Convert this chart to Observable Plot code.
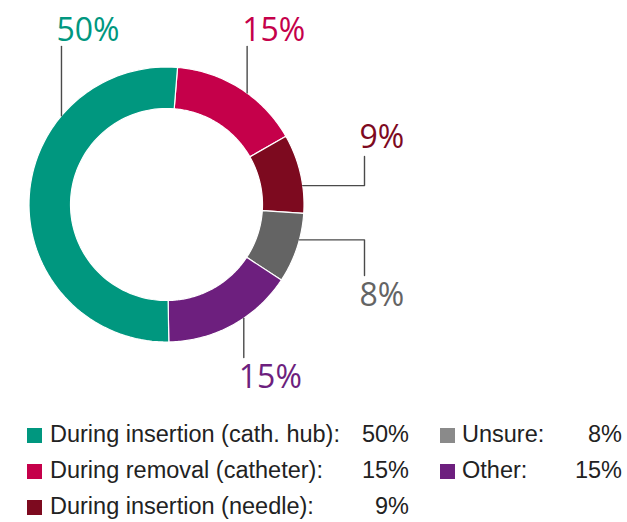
<!DOCTYPE html>
<html>
<head>
<meta charset="utf-8">
<script src="https://cdn.jsdelivr.net/npm/d3@7"></script>
<script src="https://cdn.jsdelivr.net/npm/@observablehq/plot@0.6"></script>
<style>
  html, body { margin: 0; padding: 0; background: #fff; }
  #wrap { position: relative; width: 627px; height: 522px; overflow: hidden; }
  #chart svg { display: block; }
  .lg { position: absolute; font-family: "Liberation Sans", Arial, sans-serif; font-size: 23.5px; color: #222; line-height: 1; white-space: nowrap; }
  .sw { position: absolute; width: 15px; height: 15px; }
</style>
</head>
<body>
<div id="wrap"><div id="chart"></div></div>
<script>
// ---- data ----
const categories = [
  "During insertion (cath. hub)",
  "During removal (catheter)",
  "During insertion (needle)",
  "Unsure",
  "Other"
];
const values = [50, 15, 9, 8, 15];
const labels = ["50%", "15%", "9%", "8%", "15%"];
const colors = ["#00977f", "#c5004a", "#7d0a1f", "#646464", "#6d1f7e"];
const legendColors = ["#00977f", "#c5004a", "#7d0a1f", "#8a8a8a", "#6d1f7e"];
// order of slices clockwise from top
const sliceOrder = [1, 2, 3, 4, 0];

// ---- layout ----
const R = 137.5, r0 = 96;
const startDeg = 4.6;
// leader anchor angle (deg clockwise from top), route, end
const leaders = [
  {angle: 310.2, route: "up", end: 158},
  {angle: 35.9, route: "up", end: 158},
  {angle: 82.1, route: "elbow", elbowX: 198, end: 48},
  {angle: 104.9, route: "elbow", elbowX: 198, end: -71},
  {angle: 145.8, route: "down", end: -153}
];

const total = d3.sum(values);
const toRad = d => d * Math.PI / 180;

// slice polygons
const slicePts = [];
let a = toRad(startDeg);
for (const i of sliceOrder) {
  const span = values[i] / total * 2 * Math.PI;
  const a0 = a, a1 = a + span, n = 80;
  for (let k = 0; k <= n; k++) {
    const t = a0 + (a1 - a0) * k / n;
    slicePts.push({cat: categories[i], x: R * Math.sin(t), y: R * Math.cos(t)});
  }
  for (let k = n; k >= 0; k--) {
    const t = a0 + (a1 - a0) * k / n;
    slicePts.push({cat: categories[i], x: r0 * Math.sin(t), y: r0 * Math.cos(t)});
  }
  a = a1;
}

// leaders & labels
const leaderPts = [];
const labelPts = [];
const capH = 23;
leaders.forEach((L, i) => {
  const t = toRad(L.angle);
  const sx = R * Math.sin(t), sy = R * Math.cos(t);
  leaderPts.push({cat: categories[i], x: sx, y: sy});
  let lx;
  if (L.route === "elbow") {
    leaderPts.push({cat: categories[i], x: L.elbowX, y: sy});
    leaderPts.push({cat: categories[i], x: L.elbowX, y: L.end});
    lx = L.elbowX;
  } else {
    leaderPts.push({cat: categories[i], x: sx, y: L.end});
    lx = sx;
  }
  const ly = L.end > sy ? L.end + (L.route === "elbow" ? 9 : 6) : L.end - 7 - capH;
  labelPts.push({cat: categories[i], x: lx - 5, y: ly, text: labels[i]});
});

const chart = Plot.plot({
  width: 627,
  height: 400,
  margin: 0,
  x: {type: "linear", domain: [-R, R], range: [166 - R, 166 + R], axis: null},
  y: {type: "linear", domain: [-R, R], range: [204 + R, 204 - R], axis: null},
  color: {domain: categories, range: colors},
  marks: [
    Plot.line(slicePts, {x: "x", y: "y", z: "cat", fill: "cat", stroke: "white", strokeWidth: 1.2, curve: "linear-closed"}),
    Plot.line(leaderPts, {x: "x", y: "y", z: "cat", stroke: "#4a4a4a", strokeWidth: 1.4, curve: "linear"}),
    Plot.text(labelPts, {x: "x", y: "y", text: "text", fill: "cat", fontSize: 32, fontWeight: 400, fontFamily: "'Open Sans', sans-serif", textAnchor: "start", lineAnchor: "bottom"})
  ]
});
document.getElementById("chart").appendChild(chart);

// ---- legend ----
const wrap = document.getElementById("wrap");
const legendCols = [
  {items: [0, 1, 2], sq: 27, tx: 50, right: 409},
  {items: [3, 4], sq: 440, tx: 462, right: 622}
];
const rowBase = [442, 478, 514];
legendCols.forEach(col => {
  col.items.forEach((idx, row) => {
    const base = rowBase[row];
    const sw = document.createElement("div");
    sw.className = "sw";
    sw.style.left = col.sq + "px";
    sw.style.top = (base - 14) + "px";
    sw.style.background = legendColors[idx];
    wrap.appendChild(sw);
    const t = document.createElement("div");
    t.className = "lg";
    t.textContent = categories[idx] + ":";
    t.style.left = col.tx + "px";
    t.style.top = (base - 19) + "px";
    wrap.appendChild(t);
    const v = document.createElement("div");
    v.className = "lg";
    v.textContent = labels[idx];
    v.style.right = (627 - col.right) + "px";
    v.style.top = (base - 19) + "px";
    wrap.appendChild(v);
  });
});
</script>
</body>
</html>
